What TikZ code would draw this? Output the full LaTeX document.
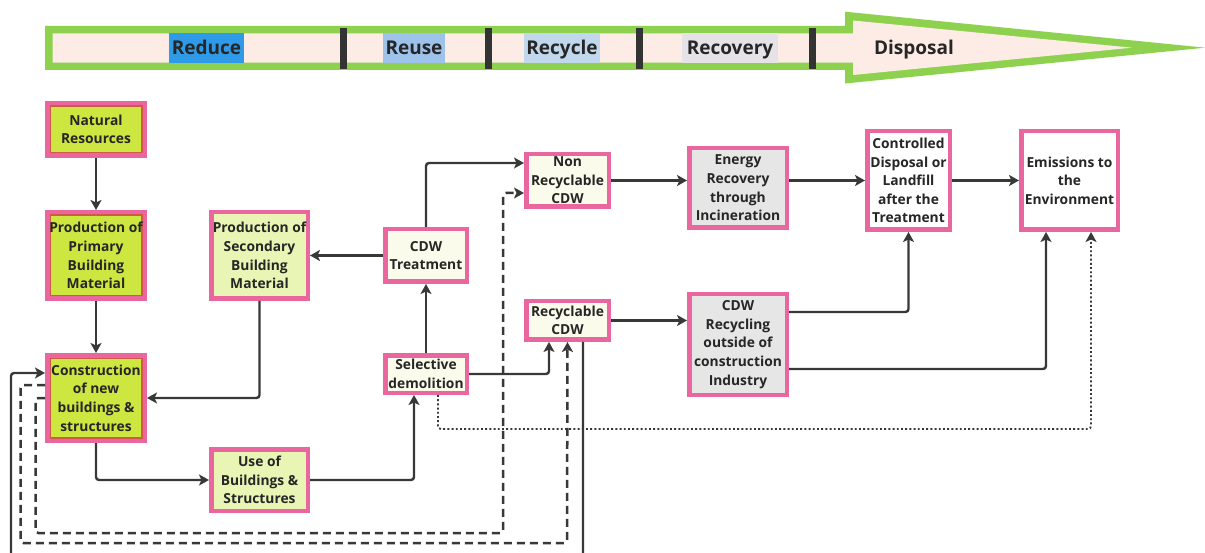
\documentclass[tikz,border=0pt]{standalone}
\usepackage{fontspec}
\setmainfont{Open Sans}
\usetikzlibrary{arrows.meta}

\definecolor{bandGreen}{HTML}{8ED14F}
\definecolor{bandFill}{HTML}{FDEBE6}
\definecolor{divGrey}{HTML}{333333}
\definecolor{hlReduce}{HTML}{2F9BE8}
\definecolor{hlReuse}{HTML}{9DC3EA}
\definecolor{hlRecycle}{HTML}{C0D7EC}
\definecolor{hlRecovery}{HTML}{E5E3E8}
\definecolor{boxPink}{HTML}{E9669E}
\definecolor{boxRed}{HTML}{D2584A}
\definecolor{fillGreen}{HTML}{CEE640}
\definecolor{fillLight}{HTML}{E8F5B5}
\definecolor{fillCream}{HTML}{FBFBEB}
\definecolor{fillGrey}{HTML}{E6E6E6}
\definecolor{inkText}{HTML}{262626}
\definecolor{inkLine}{HTML}{383838}

\begin{document}
\begin{tikzpicture}[x=1pt,y=-1pt,
  box/.style={draw=boxPink, line width=4.5pt, rectangle, inner sep=0pt,
    align=center, text=inkText,
    font=\fontsize{13.8}{18.6}\selectfont\bfseries},
  greenbox/.style={box, fill=fillGreen,
    path picture={\draw[boxRed, line width=7pt]
      (path picture bounding box.south west) rectangle
      (path picture bounding box.north east);}},
  lightbox/.style={box, fill=fillLight},
  creambox/.style={box, fill=fillCream},
  greybox/.style={box, fill=fillGrey},
  whitebox/.style={box, fill=white},
  stagelabel/.style={inner sep=0pt, minimum height=29.4pt, text=inkText,
    text height=17pt, text depth=4pt,
    font=\fontsize{19}{22}\selectfont\bfseries},
  flow/.style={draw=inkLine, line width=2.4pt, rounded corners=3pt,
    -{Stealth[length=10pt, width=11pt, inset=2.5pt]}},
  dashflow/.style={flow, line width=2.5pt, dash pattern=on 8pt off 5pt},
  dotflow/.style={flow, line width=1.9pt, dash pattern=on 1.9pt off 2.3pt},
]
\fill[white] (0,0) rectangle (1205,553);
\clip (0,0) rectangle (1205,553);

% waste hierarchy arrow: green outline with pale interior
\fill[bandGreen] (45,26) -- (845,26) -- (845,11.7) -- (1205,47.7)
  -- (845,83.5) -- (845,70) -- (45,70) -- cycle;
\fill[bandFill] (52.7,33.3) -- (853,33.3) -- (853,20.5) -- (1132,47.7)
  -- (853,75) -- (853,62.7) -- (52.7,62.7) -- cycle;
\foreach \xd in {343,488,639,812}
  \fill[divGrey] (\xd-3.5,28) rectangle (\xd+3.5,69);

\node[stagelabel, fill=hlReduce, minimum width=75pt] (reduce) at (206.5,48) {Reduce};
\node[stagelabel, fill=hlReuse, minimum width=62pt] (reuse) at (414,48) {Reuse};
\node[stagelabel, fill=hlRecycle, minimum width=76pt] (recycle) at (562,48) {Recycle};
\node[stagelabel, fill=hlRecovery, minimum width=96pt] (recovery) at (730,48) {Recovery};
\node[stagelabel] (disposal) at (914,48) {Disposal};

% process boxes
\node[greenbox, minimum width=97.5pt, minimum height=52.5pt] (nat) at (96,129.5) {Natural\\Resources};
\node[greenbox, minimum width=97.5pt, minimum height=86.5pt] (prim) at (96,255.5) {Production of\\Primary\\Building\\Material};
\node[greenbox, minimum width=97.5pt, minimum height=85.5pt] (cons) at (96,398) {Construction\\of new\\buildings \&\\structures};
\node[lightbox, minimum width=96.5pt, minimum height=86.5pt] (sec) at (259.5,255.5) {Production of\\Secondary\\Building\\Material};
\node[lightbox, minimum width=96.5pt, minimum height=61.5pt] (use) at (259.5,480) {Use of\\Buildings \&\\Structures};
\node[creambox, minimum width=81.5pt, minimum height=52.5pt] (treat) at (426,255.5) {CDW\\Treatment};
\node[creambox, minimum width=81.5pt, minimum height=37.5pt] (sel) at (426,374) {Selective\\demolition};
\node[creambox, minimum width=82.5pt, minimum height=52.5pt] (nonrec) at (567.5,180.5) {Non\\Recyclable\\CDW};
\node[creambox, minimum width=82.5pt, minimum height=38.5pt] (rec) at (567.5,320.5) {Recyclable\\CDW};
\node[greybox, minimum width=97.5pt, minimum height=79.5pt] (energy) at (738,188) {Energy\\Recovery\\through\\Incineration};
\node[greybox, minimum width=97.5pt, minimum height=100.5pt] (recyc) at (738,344.5) {CDW\\Recycling\\outside of\\construction\\Industry};
\node[whitebox, minimum width=82.5pt, minimum height=98.5pt] (ctrl) at (908.5,180.5) {Controlled\\Disposal or\\Landfill\\after the\\Treatment};
\node[whitebox, minimum width=96.5pt, minimum height=98.5pt] (emis) at (1069.5,180.5) {Emissions to\\the\\Environment};

% material flows
\draw[flow] (nat) -- (prim);
\draw[flow] (prim) -- (cons);
\draw[flow] (sec.south) |- (cons.east);
\draw[flow] (cons.south) |- (use.west);
\draw[flow] (use.east) -| ([xshift=-12pt]sel.south);
\draw[flow] (sel) -- (treat);
\draw[flow] (treat) -- (sec);
\draw[flow] (treat.north) |- ([yshift=17.5pt]nonrec.west);
\draw[flow] (sel.east) -| ([xshift=-18.5pt]rec.south);
\draw[flow] (nonrec.east) -- (nonrec.east -| energy.west);
\draw[flow] (rec.east) -- (rec.east -| recyc.west);
\draw[flow] (energy.east |- ctrl.west) -- (ctrl.west);
\draw[flow] (ctrl) -- (emis);
\draw[flow] ([yshift=32.5pt]recyc.east) -| (ctrl.south);
\draw[flow] ([yshift=-24.5pt]recyc.east) -| ([xshift=-23.5pt]emis.south);
\draw[dotflow] ([xshift=12pt]sel.south) |- (800,429) -| ([xshift=21.5pt]emis.south);

% return loops
\draw[dashflow] (cons.west) -- (35.5,398) -- (35.5,533) -- (503,533) -- (503,193)
  -- ([yshift=-12.5pt]nonrec.west);
\draw[dashflow] ([yshift=13pt]cons.west) -- (20.5,385) -- (20.5,543) -- (567,543)
  -- (rec.south);
\draw[flow] ([xshift=15.5pt]rec.south) -- (583,565) -- (11,565) -- (11,373)
  -- ([yshift=25pt]cons.west);
\end{tikzpicture}
\end{document}
